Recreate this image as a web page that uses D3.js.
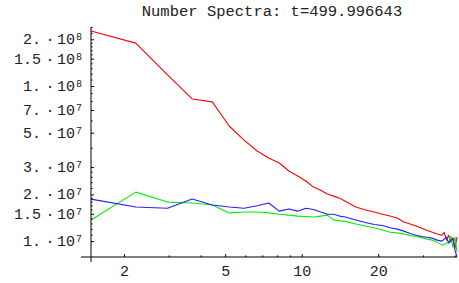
<!DOCTYPE html>
<html>
<head>
<meta charset="utf-8">
<script src="https://cdn.jsdelivr.net/npm/d3@7"></script>
<style>
  html, body { margin: 0; padding: 0; background: #fff; }
  svg { display: block; font-family: "Liberation Mono", "DejaVu Sans Mono", monospace; }
</style>
</head>
<body>
<div id="chart"></div>
<script>
const W = 459, H = 283;

// shell wavenumbers
const kValues = [1.484, 2.226, 2.968, 3.71, 4.452, 5.194, 5.936, 6.678, 7.42, 8.162,
  8.904, 9.646, 10.388, 11.13, 11.872, 12.614, 13.356, 14.098, 14.84, 16.324,
  17.808, 19.292, 20.776, 22.26, 23.744, 25.228, 26.712, 28.196, 29.68, 31.164,
  32.648, 34.132, 35.616, 36.358, 37.1, 37.842, 38.584, 39.326, 40.068, 40.81];

// values in units of 1e7
const redSeries = [22.6, 18.9, 11.8, 8.25, 7.9, 5.5, 4.48, 3.81, 3.43, 3.19,
  2.83, 2.63, 2.44, 2.23, 2.13, 2.01, 1.95, 1.89, 1.81, 1.66,
  1.585, 1.54, 1.49, 1.45, 1.41, 1.33, 1.29, 1.25, 1.21, 1.17,
  1.14, 1.11, 1.09, 1.14, 1.015, 1.09, 0.985, 1.045, 0.90, 1.06];
const greenSeries = [1.37, 2.07, 1.785, 1.76, 1.71, 1.52, 1.54, 1.54, 1.52, 1.49,
  1.47, 1.45, 1.44, 1.43, 1.45, 1.47, 1.37, 1.35, 1.34, 1.29,
  1.25, 1.22, 1.18, 1.14, 1.13, 1.11, 1.085, 1.07, 1.053, 1.03,
  1.015, 0.985, 0.942, 0.956, 0.97, 0.985, 1.077, 0.915, 1.06, 0.85];
const blueSeries = [1.866, 1.66, 1.63, 1.866, 1.71, 1.66, 1.63, 1.69, 1.76, 1.56,
  1.61, 1.56, 1.63, 1.60, 1.54, 1.49, 1.49, 1.45, 1.43, 1.37,
  1.32, 1.28, 1.26, 1.22, 1.195, 1.16, 1.12, 1.09, 1.07, 1.06,
  1.045, 1.015, 1.0, 1.03, 1.06, 0.97, 1.015, 1.045, 0.875, 0.79];

const xMajor = [2, 5, 10, 20];
const xMinor = [3, 4, 6, 7, 8, 9, 30, 40];
const yMajor = [
  { m: "2.",  e: 8 }, { m: "1.5", e: 8 }, { m: "1.",  e: 8 },
  { m: "7.",  e: 7 }, { m: "5.",  e: 7 }, { m: "3.",  e: 7 },
  { m: "2.",  e: 7 }, { m: "1.5", e: 7 }, { m: "1.",  e: 7 }
];
const yMinorMant = [1.1, 1.2, 1.3, 1.4, 1.6, 1.7, 1.8, 1.9, 2.2, 2.4, 2.6, 2.8, 4, 6, 8, 9];

const title = "Number Spectra: t=499.996643";

// ── Scales ──
const x = d3.scaleLog().domain([1.484, 40.81]).range([91, 457]);
const y = d3.scaleLog().domain([0.79e7, 2.4e8]).range([257, 27]);

const svg = d3.select("#chart").append("svg")
  .attr("width", W).attr("height", H);

// ── Series ──
const series = [
  { vals: redSeries,   color: "#ff0000" },
  { vals: greenSeries, color: "#00f000" },
  { vals: blueSeries,  color: "#2a1aff" }
];

const line = d3.line()
  .x(d => x(d[0]))
  .y(d => y(d[1] * 1e7));

series.forEach(s => {
  svg.append("path")
    .datum(kValues.map((k, i) => [k, s.vals[i]]))
    .attr("fill", "none")
    .attr("stroke", s.color)
    .attr("stroke-width", 1.1)
    .attr("stroke-linejoin", "round")
    .attr("d", line);
});

// ── X axis ──
const xAxisY = 257;
const xMajAxis = svg.append("g")
  .attr("transform", `translate(0,${xAxisY})`)
  .call(d3.axisBottom(x).tickValues(xMajor).tickSize(-3).tickPadding(0).tickFormat(d3.format("d")));
const xMinAxis = svg.append("g")
  .attr("transform", `translate(0,${xAxisY})`)
  .call(d3.axisBottom(x).tickValues(xMinor).tickSize(-1.6).tickFormat(""));
[xMajAxis, xMinAxis].forEach(g => {
  g.select(".domain").remove();
  g.selectAll("line").attr("stroke", "#000").attr("stroke-width", 1);
});
xMajAxis.selectAll("text")
  .attr("y", 19).attr("dy", 0)
  .style("font-size", "15px")
  .style("font-family", "Liberation Mono, monospace")
  .attr("fill", "#222");

svg.append("line")
  .attr("x1", 81).attr("x2", 457)
  .attr("y1", xAxisY).attr("y2", xAxisY)
  .attr("stroke", "#000").attr("stroke-width", 1);

// ── Y axis ──
const yAxisX = 91;
const yMajorVals = yMajor.map(t => parseFloat(t.m) * Math.pow(10, t.e));
const yMinorVals = [];
[7, 8].forEach(e => yMinorMant.forEach(m => {
  const v = m * Math.pow(10, e);
  if (v >= 0.79e7 && v <= 2.4e8 && !yMajorVals.includes(v)) yMinorVals.push(v);
}));

const yMajAxis = svg.append("g")
  .attr("transform", `translate(${yAxisX},0)`)
  .call(d3.axisLeft(y).tickValues(yMajorVals).tickSize(-3).tickFormat(""));
const yMinAxis = svg.append("g")
  .attr("transform", `translate(${yAxisX},0)`)
  .call(d3.axisLeft(y).tickValues(yMinorVals).tickSize(-1.6).tickFormat(""));
[yMajAxis, yMinAxis].forEach(g => {
  g.select(".domain").remove();
  g.selectAll("line").attr("stroke", "#000").attr("stroke-width", 1);
});

svg.append("line")
  .attr("x1", yAxisX).attr("x2", yAxisX)
  .attr("y1", 27).attr("y2", 262)
  .attr("stroke", "#000").attr("stroke-width", 1);

// tick labels like "1.5 · 10^8"
const yLab = svg.append("g")
  .style("font-size", "15px")
  .attr("fill", "#222");
yMajor.forEach((t, i) => {
  const cy = y(yMajorVals[i]);
  yLab.append("text").attr("x", 41).attr("y", cy + 5)
    .attr("text-anchor", "end").text(t.m);
  yLab.append("text").attr("x", 50).attr("y", cy + 5)
    .attr("text-anchor", "middle").text("\u00b7");
  yLab.append("text").attr("x", 57).attr("y", cy + 5).text("10");
  yLab.append("text").attr("x", 76).attr("y", cy + 1)
    .style("font-size", "10px").text(t.e);
});

// ── Title ──
svg.append("text")
  .attr("x", 272).attr("y", 16)
  .attr("text-anchor", "middle")
  .style("font-size", "15.5px")
  .attr("fill", "#222")
  .text(title);
</script>
</body>
</html>
